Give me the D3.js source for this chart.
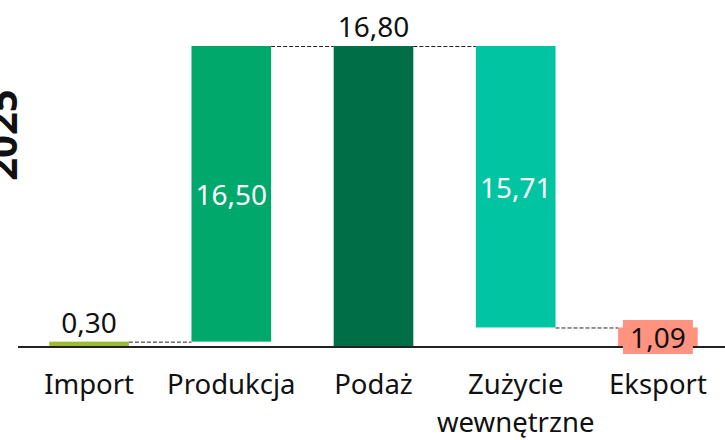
<!DOCTYPE html>
<html>
<head>
<meta charset="utf-8">
<script src="https://cdn.jsdelivr.net/npm/d3@7"></script>
<style>
  body { margin: 0; background: #fff; }
  text { font-family: "Noto Sans", "Open Sans", sans-serif; }
</style>
</head>
<body>
<div id="chart"></div>
<script>
// Data
const categories = ['Import', 'Produkcja', 'Podaż', 'Zużycie wewnętrzne', 'Eksport']
const starts = [0, 0.30, 0, 1.09, 0]
const values = [0.30, 16.50, 16.80, 15.71, 1.09]
const labels = ['0,30', '16,50', '16,80', '15,71', '1,09']
const colors = ['#9bbb38', '#00a86b', '#006e46', '#00c4a2', '#ff9380']
const inside = [false, true, false, true, false]
const yearLabel = '2025'

const dataset = categories.map((c, i) => ({
  cat: c, start: starts[i], end: starts[i] + values[i],
  label: labels[i], color: colors[i], inside: inside[i]
}))

// Dimensions
const width = 725
const height = 440
const margin = { top: 46, bottom: 93, left: 18, right: -4 }
const ctrWidth = width - margin.left - margin.right
const ctrHeight = height - margin.top - margin.bottom

const svg = d3.select('#chart')
  .append('svg')
  .attr('width', width)
  .attr('height', height)

const ctr = svg.append('g')
  .attr('transform', `translate(${margin.left}, ${margin.top})`)

// scales
const xScale = d3.scaleBand()
  .domain(categories)
  .range([0, ctrWidth])
  .paddingInner(0.44)
  .paddingOuter(0.22)

const yScale = d3.scaleLinear()
  .domain([0, 16.80])
  .range([ctrHeight, 0])

// connectors (level where neighbouring bars meet)
for (let i = 0; i < dataset.length - 1; i++) {
  const a = dataset[i]
  const b = dataset[i + 1]
  const level = i < 3 ? a.end : b.end
  ctr.append('line')
    .attr('x1', xScale(a.cat) + xScale.bandwidth())
    .attr('x2', xScale(b.cat))
    .attr('y1', yScale(level) + 0.5)
    .attr('y2', yScale(level) + 0.5)
    .attr('stroke', '#222')
    .attr('stroke-width', 1)
    .attr('stroke-dasharray', '4,2')
}

// Draw bars
ctr.selectAll('rect.bar')
  .data(dataset)
  .join('rect')
  .attr('class', 'bar')
  .attr('x', d => xScale(d.cat))
  .attr('y', d => yScale(d.end))
  .attr('width', xScale.bandwidth())
  .attr('height', d => yScale(d.start) - yScale(d.end))
  .attr('fill', d => d.color)

// axis line
ctr.append('line')
  .attr('x1', 0)
  .attr('x2', width - margin.left)
  .attr('y1', ctrHeight)
  .attr('y2', ctrHeight)
  .attr('stroke', '#222')
  .attr('stroke-width', 2)

// value labels
const fs = 28
dataset.forEach(d => {
  const cx = xScale(d.cat) + xScale.bandwidth() / 2
  if (d.inside) {
    ctr.append('text')
      .attr('x', cx)
      .attr('y', (yScale(d.start) + yScale(d.end)) / 2)
      .attr('text-anchor', 'middle')
      .attr('dominant-baseline', 'central')
      .attr('font-size', fs)
      .attr('fill', '#fff')
      .text(d.label)
  } else if (d.cat === 'Eksport') {
    const cy = ctrHeight - 10
    ctr.append('rect')
      .attr('x', cx - 35)
      .attr('y', cy - 17)
      .attr('width', 70)
      .attr('height', 34)
      .attr('fill', d.color)
    ctr.append('text')
      .attr('x', cx)
      .attr('y', cy)
      .attr('text-anchor', 'middle')
      .attr('dominant-baseline', 'central')
      .attr('font-size', fs)
      .attr('fill', '#111')
      .text(d.label)
  } else {
    ctr.append('text')
      .attr('x', cx)
      .attr('y', yScale(d.end) - 9)
      .attr('text-anchor', 'middle')
      .attr('font-size', fs)
      .attr('fill', '#111')
      .text(d.label)
  }
})

// category labels
ctr.selectAll('text.cat')
  .data(categories)
  .join('text')
  .attr('class', 'cat')
  .attr('x', d => xScale(d) + xScale.bandwidth() / 2)
  .attr('y', ctrHeight + 47)
  .attr('text-anchor', 'middle')
  .attr('font-size', 27.5)
  .attr('fill', '#111')
  .each(function (d) {
    const words = d.split(' ')
    d3.select(this).selectAll('tspan')
      .data(words)
      .join('tspan')
      .attr('x', xScale(d) + xScale.bandwidth() / 2)
      .attr('dy', (w, j) => j === 0 ? 0 : 38)
      .text(w => w)
  })

// year label
svg.append('text')
  .attr('transform', 'translate(17, 135) rotate(-90)')
  .attr('text-anchor', 'middle')
  .attr('font-size', 40)
  .attr('font-weight', 'bold')
  .attr('fill', '#111')
  .text(yearLabel)
</script>
</body>
</html>
